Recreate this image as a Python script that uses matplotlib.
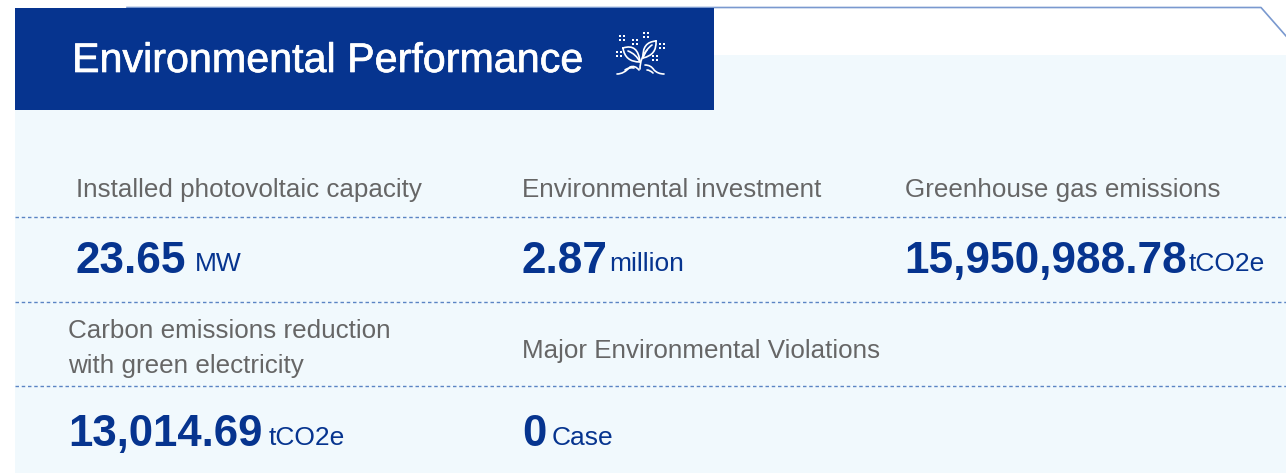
import matplotlib
matplotlib.use("Agg")
import matplotlib.pyplot as plt
import matplotlib.patheffects as pe
from matplotlib.patches import Rectangle, PathPatch
from matplotlib.path import Path

plt.rcParams['font.family'] = ['Liberation Sans', 'DejaVu Sans']

title = "Environmental Performance"
labels = ["Installed photovoltaic capacity", "Environmental investment", "Greenhouse gas emissions",
          "Carbon emissions reduction\nwith green electricity", "Major Environmental Violations"]
values = ["23.65", "2.87", "15,950,988.78", "13,014.69", "0"]
units = ["MW", "million", "tCO2e", "tCO2e", "Case"]

label_x = [76, 522, 905, 68, 522]
label_y = [190, 190, 190, 348.5, 351]
value_x = [75.5, 521.5, 904.5, 68, 522]
value_y = [273, 273, 273, 446, 446]
value_size = [31.8, 31.8, 31.8, 31.5, 31.5]
unit_x = [195, 609, 1189, 269, 552]
unit_y = [271, 271, 271, 445, 445]

navy = "#06348f"
pale = "#f1f9fd"
grey = "#666666"
dash = "#5b84c4"

fig = plt.figure(figsize=(12.86, 4.73), dpi=100)
ax = fig.add_axes([0, 0, 1, 1])
ax.set_xlim(0, 1286)
ax.set_ylim(473, 0)
ax.axis("off")

# background panels
ax.add_patch(Rectangle((15, 55), 1271, 418, color=pale, lw=0))
ax.add_patch(Rectangle((15, 8), 699, 102, color=navy, lw=0, zorder=2))
ax.plot([127, 1261, 1286], [7.5, 7.5, 36], color="#7a99cf", lw=1.2, zorder=1)

t = ax.text(72, 72, title, color="white", fontsize=29.7, va="baseline", zorder=3)
t.set_path_effects([pe.withStroke(linewidth=0.5, foreground="white")])

# plant icon
def stroke(verts, codes):
    ax.add_patch(PathPatch(Path(verts, codes), fc="none", ec="white", lw=1.2, zorder=3, capstyle="round"))

C = Path.CURVE3
M = Path.MOVETO
stroke([(623, 48), (638, 43), (640, 62), (625, 62), (623, 48)], [M, C, C, C, C])
stroke([(656, 41), (642, 42), (643, 58), (657, 55), (656, 41)], [M, C, C, C, C])
stroke([(628, 51), (636, 54), (640, 62)], [M, C, C])
stroke([(652, 45), (646, 49), (643, 58)], [M, C, C])
stroke([(640, 69), (640, 58), (647, 50)], [M, C, C])
stroke([(617, 74), (624, 74), (630, 67), (635, 65), (639, 70)], [M, C, C, C, C])
stroke([(625, 70), (629, 67), (634, 68)], [M, C, C])
stroke([(645, 65), (651, 65), (654, 70), (658, 74), (664, 74)], [M, C, C, C, C])
stroke([(647, 70), (650, 70), (653, 73)], [M, C, C])
for px, py in [(622, 38), (646, 35), (635, 42), (662, 46), (619, 54), (655, 58)]:
    ax.plot([px - 1.6, px + 1.6, px - 1.6, px + 1.6], [py - 1.6, py - 1.6, py + 1.6, py + 1.6], ls="none",
            marker="s", ms=1.5, color="white", mew=0, zorder=3)

# dotted rules
for yy in [217, 302, 386]:
    ax.plot([15, 1286], [yy, yy], color=dash, lw=1.0, ls=(0, (2.5, 2)))

for i in range(len(labels)):
    ax.text(label_x[i], label_y[i], labels[i], color=grey, fontsize=18.75, va="center", linespacing=1.6)
    ax.text(value_x[i], value_y[i], values[i], color=navy, fontsize=value_size[i], fontweight="bold", va="baseline")
    ax.text(unit_x[i], unit_y[i], units[i], color=navy, fontsize=19, va="baseline")

fig.savefig("out.png", dpi=100)
